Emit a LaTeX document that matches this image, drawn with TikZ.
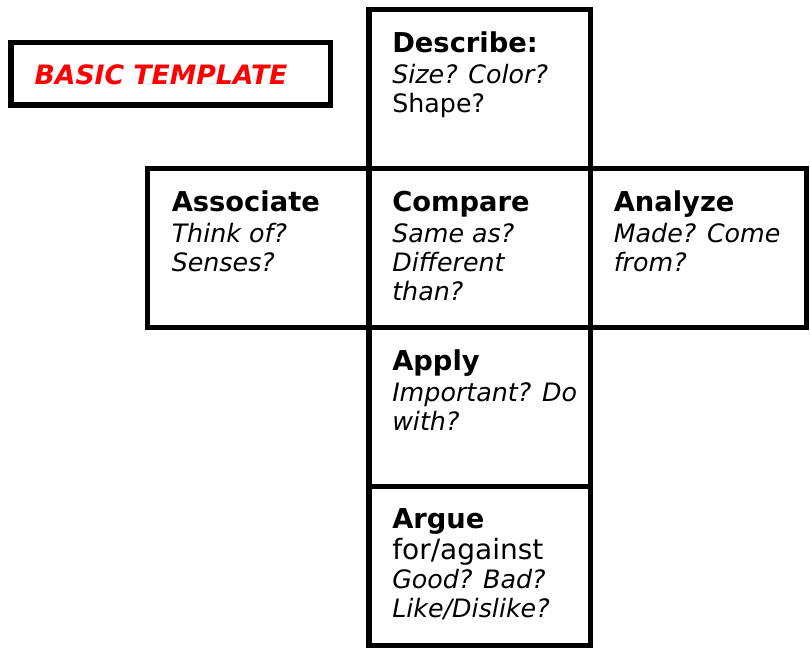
\documentclass[tikz,border=0pt]{standalone}
\usepackage{fontspec}
\setmainfont{DejaVu Sans}
\usetikzlibrary{positioning}
\newlength\px
\setlength\px{0.75pt}
\newcommand\hd[1]{{\fontsize{20.5pt}{21.75pt}\selectfont\bfseries #1}}

\begin{document}
\begin{tikzpicture}[x=\px, y=-\px,
     node distance = 0pt and 0pt,
        cell/.style = {rectangle, draw, line width=4.3pt, outer sep=0pt, inner sep=0pt,
                       minimum width=221.5\px, minimum height=159\px},
         txt/.style = {anchor=north west, align=left, inner sep=0pt,
                       font=\fontsize{19pt}{21.75pt}\selectfont}
                        ]
\useasboundingbox (0,0) rectangle (810,648);
% title
\node (title)[cell, minimum width=319.5\px, minimum height=62.5\px] at (170.75,73.75) {};
\node (basic)[text=red, font=\fontsize{20pt}{20pt}\selectfont\bfseries\itshape] at (161,75) {BASIC TEMPLATE};
% the cross
\node (describe)[cell] at (479.75,89) {};
\node (compare)[cell, below =of describe] {};
\node (associate)[cell, left =of compare] {};
\node (analyze)[cell, right =of compare, minimum width=216\px] {};
\node (apply)[cell, below =of compare] {};
\node (argue)[cell, below =of apply] {};
% texts
\node (describe-t)[txt] at ([shift={(23,22)}]describe.north west) {\hd{Describe:}\\[2\px] \textit{Size? Color?}\\ Shape?};
\node (compare-t)[txt] at ([shift={(23,22)}]compare.north west) {\hd{Compare}\\[2\px] \textit{Same as?}\\ \textit{Different}\\ \textit{than?}};
\node (associate-t)[txt] at ([shift={(24,22)}]associate.north west) {\hd{Associate}\\[2\px] \textit{Think of?}\\ \textit{Senses?}};
\node (analyze-t)[txt] at ([shift={(23,22)}]analyze.north west) {\hd{Analyze}\\[2\px] \textit{Made? Come}\\ \textit{from?}};
\node (apply-t)[txt] at ([shift={(23,22)}]apply.north west) {\hd{Apply}\\[2\px] \textit{Important? Do}\\ \textit{with?}};
\node (argue-t)[txt] at ([shift={(23,22)}]argue.north west) {\hd{Argue}\\[2\px] {\fontsize{21pt}{21.75pt}\selectfont for/against}\\ \textit{Good? Bad?}\\ \textit{Like/Dislike?}};
\end{tikzpicture}
\end{document}
